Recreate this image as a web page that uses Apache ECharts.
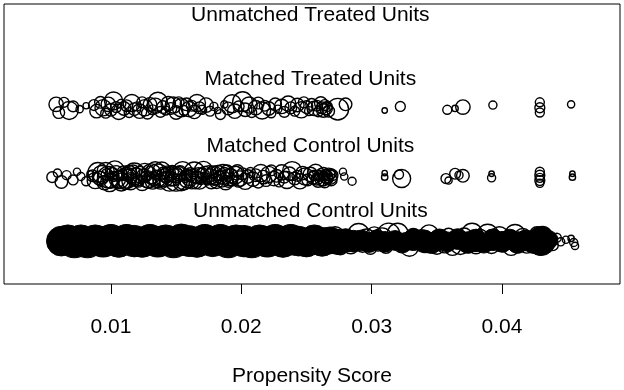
<!DOCTYPE html>
<html>
<head>
<meta charset="utf-8">
<script src="https://cdn.jsdelivr.net/npm/echarts@6/dist/echarts.min.js"></script>
<style>
  html, body { margin: 0; padding: 0; background: #fff; }
  #chart { width: 624px; height: 390px; }
</style>
</head>
<body>
<div id="chart"></div>
<script>
// each point: [propensity score, vertical jitter, weight]
const matchedTreated = [
  [0.0058,0.05,1.6],[0.0060,-0.07,1.3],[0.0064,0.08,1.1],[0.0068,-0.04,2.0],[0.0071,0.02,1.2],[0.0076,-0.02,0.8],[0.0081,0.03,0.7],
  [0.0087,0.04,1.2],[0.0089,-0.05,1.5],[0.0092,0.08,1.3],[0.0094,0.00,1.8],[0.0096,-0.08,1.1],[0.0098,0.05,1.6],[0.0100,-0.03,1.4],
  [0.0102,0.10,2.0],[0.0104,0.01,1.2],[0.0106,-0.06,1.7],[0.0108,0.06,1.0],[0.0110,-0.01,1.5],[0.0112,0.03,1.3],[0.0114,-0.07,1.1],
  [0.0116,0.07,1.9],[0.0118,-0.02,1.4],[0.0120,0.02,1.0],[0.0122,-0.05,1.6],[0.0124,0.08,1.2],[0.0126,0.00,1.8],[0.0128,-0.08,1.3],
  [0.0130,0.05,1.5],[0.0132,-0.03,1.1],[0.0134,0.03,1.7],[0.0136,0.09,2.1],[0.0138,-0.06,1.2],[0.0140,0.01,1.4],[0.0142,-0.04,1.0],
  [0.0144,0.06,1.6],[0.0146,-0.01,1.3],[0.0148,0.04,1.8],[0.0150,-0.07,1.5],[0.0152,0.08,1.2],[0.0154,0.00,2.0],[0.0156,-0.04,1.1],
  [0.0158,0.05,1.4],[0.0160,-0.02,1.7],[0.0162,0.03,1.2],[0.0164,-0.06,1.5],[0.0166,0.07,1.9],[0.0168,0.00,1.3],[0.0170,-0.03,1.0],
  [0.0173,0.04,1.6],[0.0176,-0.05,1.1],[0.0179,0.02,0.9],[0.0182,-0.04,0.7],[0.0184,-0.10,1.1],[0.0187,0.05,0.8],
  [0.0190,-0.01,1.4],[0.0193,0.06,2.0],[0.0195,-0.05,1.6],[0.0198,0.02,1.2],[0.0201,0.09,2.2],[0.0203,-0.03,1.5],[0.0206,0.04,1.8],
  [0.0208,-0.07,1.1],[0.0211,0.00,1.6],[0.0213,0.07,1.3],[0.0216,-0.04,1.9],[0.0218,0.03,1.2],[0.0221,-0.01,1.5],[0.0223,-0.08,1.0],
  [0.0226,0.05,1.4],[0.0228,-0.02,0.9],[0.0231,0.02,1.6],[0.0233,-0.06,1.2],[0.0236,0.06,1.7],[0.0238,0.00,1.3],[0.0241,-0.05,1.1],
  [0.0243,0.04,1.5],[0.0246,-0.03,1.8],[0.0248,0.08,1.2],[0.0250,0.01,1.4],[0.0252,-0.05,1.0],[0.0254,0.05,1.3],[0.0256,-0.01,1.6],
  [0.0258,0.03,1.2],[0.0259,-0.06,1.1],[0.0261,0.07,1.4],[0.0262,0.00,1.3],[0.0263,-0.04,1.5],[0.0264,0.04,1.2],[0.0265,-0.01,1.4],
  [0.0266,0.02,1.1],[0.0267,-0.05,1.3],[0.0274,-0.02,2.4],[0.0280,0.05,1.4],
  [0.0310,-0.04,0.6],[0.0322,0.02,1.1],[0.0358,-0.03,1.0],[0.0364,-0.01,0.7],[0.0370,0.01,1.6],[0.0393,0.04,0.9],
  [0.0429,0.08,1.0],[0.0429,0.00,1.1],[0.0429,-0.07,1.0],[0.0453,0.05,0.8]
];

const matchedControl = [
  [0.0055,0.00,1.2],[0.0059,0.06,0.9],[0.0062,-0.07,1.4],[0.0066,0.03,1.0],[0.0071,-0.04,1.1],[0.0074,0.08,0.8],[0.0077,0.01,0.9],
  [0.0081,-0.06,1.0],[0.0084,0.05,0.7],
  [0.0086,0.02,1.3],[0.0088,-0.05,1.8],[0.0090,0.07,2.2],[0.0091,-0.01,1.5],[0.0093,0.04,2.0],[0.0095,-0.08,1.6],[0.0096,0.09,1.9],
  [0.0098,0.00,2.4],[0.0100,-0.05,1.7],[0.0101,0.05,1.4],[0.0103,0.10,2.1],[0.0105,-0.03,1.8],[0.0106,0.02,1.2],[0.0108,-0.07,2.0],
  [0.0110,0.06,1.6],[0.0112,-0.01,2.3],[0.0113,0.03,1.3],[0.0115,-0.06,1.9],[0.0117,0.08,1.5],[0.0119,0.00,2.1],[0.0120,-0.04,1.4],
  [0.0122,0.04,1.8],[0.0124,-0.09,1.6],[0.0126,0.07,2.0],[0.0127,0.01,1.2],[0.0129,-0.05,1.7],[0.0131,0.05,2.2],[0.0133,-0.02,1.5],
  [0.0134,0.10,1.9],[0.0136,0.02,2.6],[0.0138,-0.07,1.6],[0.0140,0.06,1.3],[0.0141,-0.01,2.0],[0.0143,0.03,1.7],[0.0145,-0.06,2.2],
  [0.0147,0.08,1.4],[0.0148,0.00,1.9],[0.0150,-0.04,2.5],[0.0152,0.05,1.6],[0.0154,-0.08,1.8],[0.0155,0.09,2.1],[0.0157,0.01,1.3],
  [0.0159,-0.03,2.0],[0.0161,0.04,1.5],[0.0162,-0.06,1.7],[0.0164,0.07,2.3],[0.0166,0.00,1.4],[0.0168,-0.05,1.9],[0.0170,0.03,1.6],
  [0.0171,0.10,2.0],[0.0173,-0.02,1.2],[0.0175,0.05,1.8],[0.0177,-0.07,1.5],[0.0179,0.02,2.1],[0.0180,-0.03,1.3],[0.0182,0.06,1.7],
  [0.0184,-0.01,1.4],[0.0186,0.04,2.2],[0.0188,-0.08,1.6],[0.0189,0.08,1.5],[0.0191,0.00,1.9],[0.0193,-0.05,1.2],[0.0195,0.03,2.0],
  [0.0197,0.09,1.4],[0.0199,-0.02,1.7],[0.0201,0.05,1.3],[0.0203,-0.06,1.8],[0.0205,0.01,1.5],[0.0207,0.07,1.1],[0.0209,-0.03,1.6],
  [0.0211,0.03,1.4],[0.0213,-0.08,1.2],[0.0215,0.06,1.9],[0.0217,0.00,1.5],[0.0219,-0.05,1.3],[0.0221,0.04,1.8],[0.0223,0.10,1.2],
  [0.0225,-0.02,1.6],[0.0227,0.02,1.4],[0.0229,-0.07,1.1],[0.0231,0.07,1.7],[0.0233,0.00,1.3],[0.0235,-0.04,1.9],[0.0237,0.05,1.5],
  [0.0239,0.09,2.1],[0.0241,-0.02,1.4],[0.0243,0.02,1.2],[0.0245,-0.06,1.7],[0.0247,0.06,1.5],[0.0249,0.01,1.9],[0.0251,-0.04,1.3],
  [0.0253,0.04,1.6],[0.0255,-0.01,1.4],[0.0257,0.07,1.8],[0.0259,-0.05,1.5],[0.0260,0.02,1.2],[0.0262,-0.02,1.6],[0.0263,0.05,1.4],
  [0.0264,-0.07,1.3],[0.0265,0.01,1.5],[0.0266,-0.03,1.2],[0.0267,0.04,1.4],[0.0268,0.00,1.6],[0.0269,-0.04,1.3],[0.0270,0.03,1.2],
  [0.0092,-0.02,1.6],[0.0097,0.04,1.3],[0.0099,-0.08,2.0],[0.0102,0.01,1.1],[0.0104,0.07,1.5],[0.0107,-0.04,1.9],[0.0109,0.03,1.2],
  [0.0111,-0.09,1.4],[0.0114,0.06,1.7],[0.0116,-0.02,1.0],[0.0118,0.05,2.4],[0.0121,-0.06,1.3],[0.0125,0.02,1.5],[0.0128,-0.03,1.9],
  [0.0130,0.08,1.2],[0.0132,-0.07,1.6],[0.0135,0.03,1.1],[0.0137,-0.04,1.4],[0.0139,0.09,2.0],[0.0142,0.00,1.3],[0.0144,0.06,1.6],
  [0.0146,-0.05,1.2],[0.0149,0.04,1.8],[0.0151,-0.02,1.0],[0.0153,0.07,1.5],[0.0156,-0.06,1.9],[0.0158,0.03,1.3],[0.0160,-0.01,1.7],
  [0.0163,0.05,1.1],[0.0165,-0.08,1.4],[0.0167,0.02,1.8],[0.0169,-0.03,1.2],[0.0172,0.06,1.5],[0.0174,-0.05,1.0],[0.0176,0.01,1.7],
  [0.0178,0.08,1.3],[0.0181,-0.06,1.6],[0.0183,0.03,1.1],[0.0185,-0.02,1.9],[0.0187,0.05,1.4],[0.0190,-0.07,1.2],[0.0192,0.02,1.6],
  [0.0194,-0.03,1.0],[0.0196,0.06,1.5],[0.0198,-0.06,1.3],
  [0.0256,0.03,1.1],[0.0258,-0.03,1.3],[0.0261,0.06,1.0],[0.0263,-0.05,1.2],[0.0265,0.04,1.1],[0.0267,-0.02,1.0],[0.0269,0.05,1.1],
  [0.0278,0.08,0.8],[0.0279,0.01,0.8],[0.0285,-0.06,0.9],[0.0310,0.06,0.6],[0.0310,0.00,0.7],[0.0321,0.04,1.0],[0.0323,-0.02,2.0],
  [0.0357,-0.02,1.1],[0.0359,-0.05,0.8],[0.0364,0.05,1.2],[0.0367,0.03,0.9],[0.0370,0.02,1.4],[0.0392,0.05,0.6],[0.0392,-0.01,0.9],
  [0.0429,0.08,1.0],[0.0429,0.03,1.1],[0.0429,-0.01,1.0],[0.0429,-0.05,1.1],[0.0429,-0.09,0.9],[0.0454,0.05,0.6],[0.0454,0.00,0.7]
];

// overplotted core of the unmatched controls (reads as solid black)
const unmatchedControlCore = [
  [0.0062,0.00,3.3],[0.0067,0.02,3.3],[0.0072,-0.02,3.4],[0.0077,0.02,3.3],[0.0082,-0.02,3.4],[0.0088,0.02,3.3],[0.0094,-0.01,3.4],
  [0.0100,0.02,3.4],[0.0106,-0.02,3.3],[0.0112,0.02,3.4],[0.0118,0.00,3.5],[0.0124,-0.02,3.3],[0.0130,0.02,3.4],[0.0136,-0.01,3.4],
  [0.0142,0.02,3.3],[0.0148,-0.02,3.4],[0.0154,0.02,3.5],[0.0160,0.00,3.4],[0.0166,-0.02,3.3],[0.0172,0.02,3.4],[0.0178,-0.01,3.3],
  [0.0184,0.02,3.4],[0.0190,-0.02,3.4],[0.0196,0.02,3.3],[0.0202,0.00,3.5],[0.0208,-0.02,3.4],[0.0214,0.02,3.3],[0.0220,-0.01,3.4],
  [0.0226,0.02,3.4],[0.0232,-0.02,3.3],[0.0238,0.02,3.4],[0.0244,0.00,3.3],[0.0250,-0.02,3.2],[0.0256,0.02,3.3],[0.0262,-0.01,3.2],
  [0.0268,0.01,3.0],[0.0274,-0.01,2.8],[0.0280,0.01,2.6],[0.0286,0.00,2.4],[0.0292,0.01,2.3],
  [0.0298,-0.02,2.2],[0.0304,0.02,2.2],[0.0310,-0.01,2.3],[0.0318,0.01,2.2],[0.0324,-0.03,2.1],[0.0332,0.02,2.4],[0.0340,0.00,2.5],
  [0.0346,-0.03,2.3],[0.0352,0.02,2.4],[0.0358,-0.01,2.2],[0.0366,0.03,2.3],[0.0374,-0.02,2.4],[0.0380,0.01,2.5],[0.0386,-0.03,2.2],
  [0.0393,0.02,2.4],[0.0400,-0.01,2.3],[0.0406,0.03,2.2],[0.0412,-0.02,2.4],[0.0418,0.01,2.3],[0.0424,-0.02,2.4],[0.0430,0.00,3.2],
  [0.0436,0.02,2.0]
];

const unmatchedControl = [
  [0.0272,0.08,2.0],[0.0276,-0.08,1.8],[0.0281,0.06,1.6],[0.0284,-0.06,1.9],[0.0290,0.10,2.4],[0.0293,-0.05,1.7],[0.0296,0.04,2.1],
  [0.0299,-0.10,1.4],[0.0302,0.09,1.8],[0.0305,-0.04,1.6],[0.0308,0.05,2.2],[0.0311,-0.08,1.5],[0.0313,0.10,2.5],[0.0317,-0.02,1.3],
  [0.0320,0.11,2.3],[0.0323,-0.06,1.7],[0.0326,0.03,1.4],[0.0329,-0.09,2.0],[0.0332,0.08,1.6],[0.0335,-0.03,1.3],[0.0338,0.05,1.8],
  [0.0341,-0.07,1.5],[0.0344,0.10,2.1],[0.0347,0.00,1.4],[0.0350,-0.08,1.7],[0.0353,0.06,1.6],[0.0356,-0.04,2.0],[0.0359,0.09,1.5],
  [0.0362,-0.09,1.8],[0.0365,0.03,1.3],[0.0368,-0.05,2.2],[0.0371,0.08,1.7],[0.0374,-0.02,1.4],[0.0377,0.11,2.3],[0.0380,-0.08,1.6],
  [0.0383,0.05,1.9],[0.0386,-0.04,1.5],[0.0389,0.09,2.4],[0.0392,-0.07,1.7],[0.0395,0.02,1.3],[0.0398,0.08,2.0],[0.0401,-0.05,1.6],
  [0.0404,0.04,1.4],[0.0407,-0.09,1.8],[0.0410,0.10,2.2],[0.0413,-0.03,1.5],[0.0416,0.06,1.9],[0.0419,-0.07,1.6],[0.0422,0.03,1.3],
  [0.0425,-0.04,2.0],[0.0427,0.10,1.7],[0.0429,-0.08,1.9],[0.0431,0.07,2.2],[0.0433,-0.02,1.8],[0.0436,0.04,1.4],[0.0439,-0.06,1.2],
  [0.0442,0.05,1.0],[0.0445,-0.01,0.9],[0.0449,0.02,0.8],[0.0453,0.04,0.7],[0.0455,-0.02,0.9],[0.0456,-0.07,0.8]
];

// row levels on the hidden vertical scale
const rowUnmatchedControl = 1;
const rowMatchedControl = 1.94;
const rowMatchedTreated = 2.96;

const groupLabels = ['Unmatched Treated Units', 'Matched Treated Units', 'Matched Control Units', 'Unmatched Control Units'];
const groupLabelY = [4.32, 3.375, 2.40, 1.44];
const labelX = 0.0253;

const xTicks = [0.01, 0.02, 0.03, 0.04];

const FONT = 'Liberation Sans, Arial, Helvetica, sans-serif';
const sizeOf = (v) => v[2] * 9;

function toPoints(rows, level) {
  return rows.map((r) => [r[0], level + r[1], r[2]]);
}

const hollow = {
  type: 'scatter',
  symbol: 'circle',
  symbolSize: sizeOf,
  itemStyle: { color: 'rgba(0,0,0,0)', borderColor: '#000', borderWidth: 1.4, opacity: 1 },
  emphasis: { disabled: true },
  silent: true
};

const chart = echarts.init(document.getElementById('chart'), null, { renderer: 'canvas' });

const opt = {
  animation: false,
  backgroundColor: '#fff',
  grid: {
    left: 4, right: 4, top: 4, bottom: 106,
    outerBoundsMode: 'none',
    containLabel: false,
    show: true,
    borderColor: '#000',
    borderWidth: 1
  },
  xAxis: {
    type: 'value',
    min: 0.0018,
    max: 0.04905,
    axisLine: { show: false },
    splitLine: { show: false },
    axisTick: { show: true, length: 10, lineStyle: { color: '#000', width: 1 }, customValues: xTicks },
    axisLabel: { show: true, margin: 33, fontSize: 21, color: '#000', fontFamily: FONT, customValues: xTicks },
    name: 'Propensity Score',
    nameLocation: 'middle',
    nameGap: 82,
    nameTextStyle: { fontSize: 21, color: '#000', fontFamily: FONT }
  },
  yAxis: {
    type: 'value',
    min: 0.37,
    max: 4.485,
    show: false,
    splitLine: { show: false }
  },
  series: [
    {
      type: 'scatter',
      symbol: 'circle',
      symbolSize: sizeOf,
      itemStyle: { color: '#000', borderColor: '#000', borderWidth: 1, opacity: 1 },
      emphasis: { disabled: true },
      silent: true,
      data: toPoints(unmatchedControlCore, rowUnmatchedControl)
    },
    Object.assign({}, hollow, { data: toPoints(unmatchedControl, rowUnmatchedControl) }),
    Object.assign({}, hollow, { data: toPoints(matchedControl, rowMatchedControl) }),
    Object.assign({}, hollow, { data: toPoints(matchedTreated, rowMatchedTreated) }),
    {
      type: 'scatter',
      symbolSize: 0,
      silent: true,
      itemStyle: { opacity: 1 },
      label: {
        show: true,
        position: 'inside',
        formatter: (p) => p.name,
        fontSize: 21,
        color: '#000',
        textBorderWidth: 0,
        fontFamily: FONT
      },
      data: groupLabels.map((t, i) => ({ name: t, value: [labelX, groupLabelY[i]] }))
    }
  ]
};

chart.setOption(opt);
</script>
</body>
</html>
